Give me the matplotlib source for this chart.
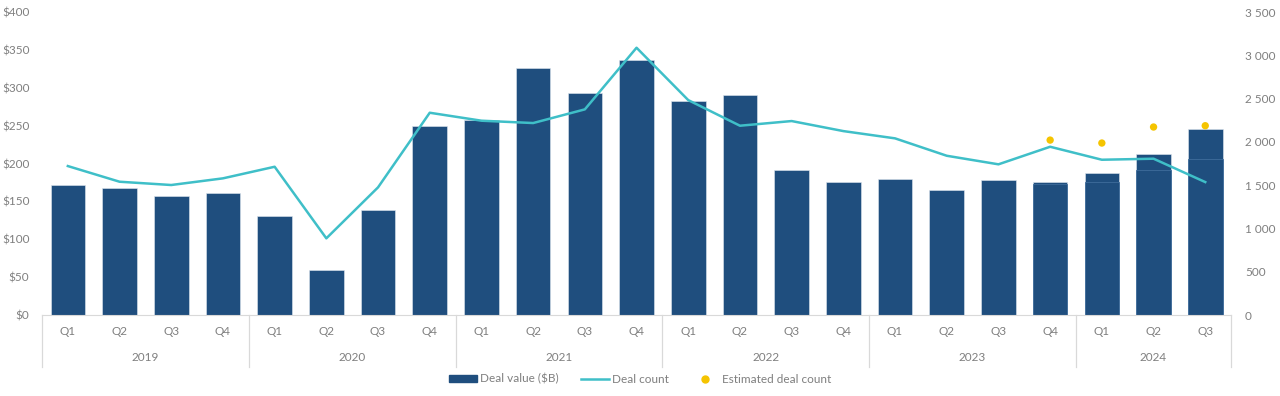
import matplotlib
matplotlib.use("Agg")
import matplotlib.pyplot as plt
from matplotlib.patches import Patch
from matplotlib.lines import Line2D
from matplotlib.ticker import FuncFormatter
import numpy as np

plt.rcParams['font.family'] = ['Lato', 'DejaVu Sans']

years = ['2019', '2020', '2021', '2022', '2023', '2024']
quarters = ['Q1', 'Q2', 'Q3', 'Q4'] * 5 + ['Q1', 'Q2', 'Q3']

# deal value ($B), left axis
deal_value = [172, 168, 157, 161, 131, 59, 139, 249, 258, 326, 293, 337,
              282, 291, 192, 176, 179, 165, 178, 176, 188, 213, 245]
# lower (reported) part shown inside the latest bars
reported_value = [np.nan] * 19 + [173, 176, 191, 206]
# deal count, right axis
deal_count = [1721, 1540, 1502, 1579, 1713, 886, 1475, 2337, 2245, 2218, 2376, 3088,
              2483, 2187, 2241, 2125, 2041, 1840, 1741, 1944, 1794, 1806, 1536]
est_count = [np.nan] * 19 + [2021, 1987, 2172, 2187]

bar_color = '#1f4e7e'
line_color = '#3fbfc8'
dot_color = '#f5c400'
text_color = '#7f7f7f'
grid_gray = '#d9d9d9'

fig = plt.figure(figsize=(12.8, 3.96), dpi=100)
ax = fig.add_axes([0.0328, 0.2045, 0.929, 0.765])
x = np.arange(len(deal_value))

ax.bar(x, deal_value, width=0.67, color=bar_color, edgecolor='#dfe7ef', linewidth=0.4, zorder=2)
ax.bar(x, reported_value, width=0.67, color=bar_color, edgecolor='#3f6c9b', linewidth=0.6, zorder=2)
ax.set_xlim(-0.5, len(x) - 0.5)
ax.set_ylim(0, 400)
ax.set_yticks(range(0, 401, 50))
ax.yaxis.set_major_formatter(FuncFormatter(lambda v, p: f'${v:.0f}'))
ax.tick_params(axis='y', length=0, labelsize=8.5, labelcolor=text_color, pad=9)
ax.set_xticks([])
for s in ['top', 'right', 'left']:
    ax.spines[s].set_visible(False)
ax.spines['bottom'].set_color(grid_gray)

ax2 = ax.twinx()
ax2.plot(x, deal_count, color=line_color, lw=1.8, zorder=3)
ax2.scatter(x, est_count, color=dot_color, s=28, zorder=4, edgecolors='none')
ax2.set_ylim(0, 3500)
ax2.set_yticks(range(0, 3501, 500))
ax2.yaxis.set_major_formatter(FuncFormatter(lambda v, p: f'{int(v):,}'.replace(',', ' ')))
ax2.tick_params(axis='y', length=0, labelsize=8.5, labelcolor=text_color, pad=10)
for s in ax2.spines.values():
    s.set_visible(False)

# two-level category axis
for i, q in enumerate(quarters):
    ax.text(i, -0.056, q, transform=ax.get_xaxis_transform(), ha='center', va='center',
            fontsize=8.5, color=text_color)
bounds = [-0.5, 3.5, 7.5, 11.5, 15.5, 19.5, len(x) - 0.5]
for b in bounds:
    ax.plot([b, b], [0, -0.171], transform=ax.get_xaxis_transform(), color=grid_gray,
            lw=0.9, clip_on=False)
for k, yr in enumerate(years):
    ax.text((bounds[k] + bounds[k + 1]) / 2, -0.139, yr, transform=ax.get_xaxis_transform(),
            ha='center', va='center', fontsize=8.5, color=text_color)

handles = [Patch(color=bar_color),
           Line2D([], [], color=line_color, lw=1.8),
           Line2D([], [], color=dot_color, marker='o', ls='none', markersize=5)]
labels = ['Deal value ($B)', 'Deal count', 'Estimated deal count']
fig.legend(handles, labels, loc='center', bbox_to_anchor=(0.5, 0.043), ncol=3, frameon=False,
           fontsize=8.5, labelcolor=text_color, handlelength=2.4, handleheight=0.6,
           handletextpad=0.2, columnspacing=1.9)

fig.savefig('out.png', dpi=100)
